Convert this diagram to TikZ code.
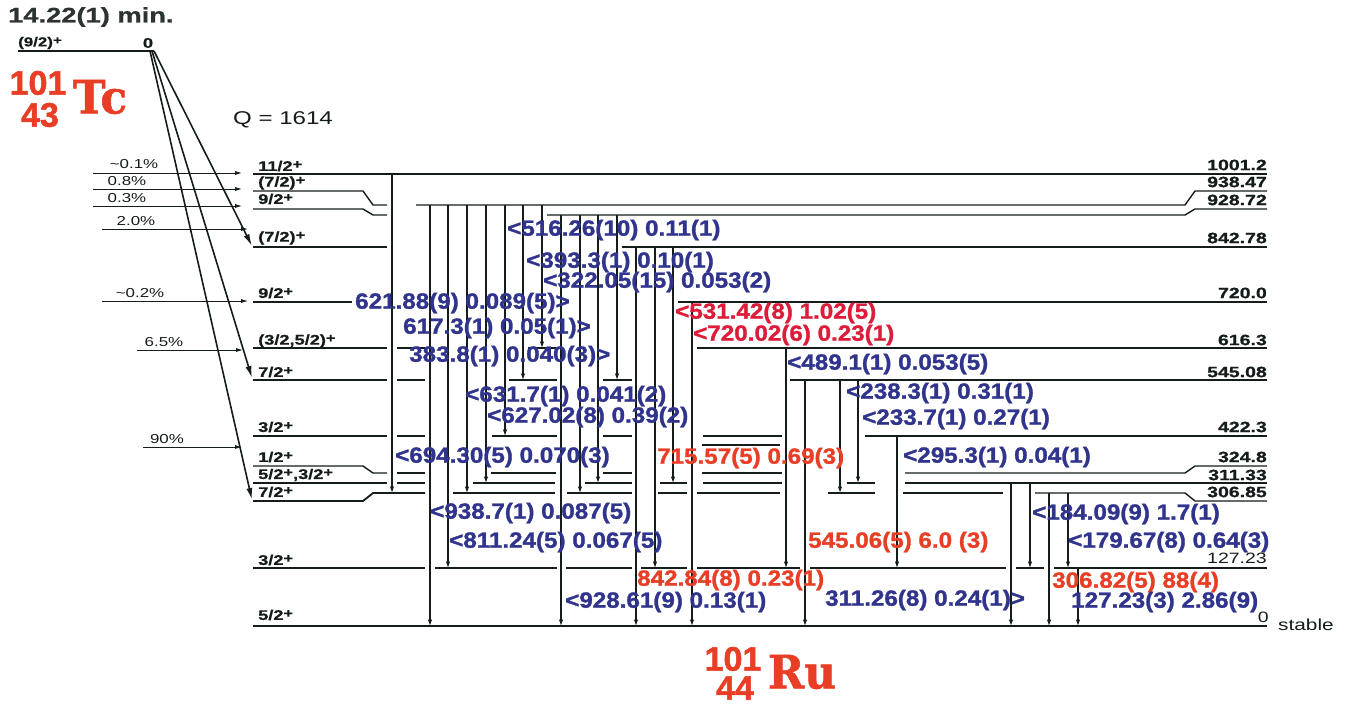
\documentclass[tikz,border=0pt]{standalone}
\usepackage{fontspec}
\usepackage{graphicx}
\usetikzlibrary{arrows.meta}
\setmainfont{Liberation Sans}
\newfontfamily\gfont{Liberation Sans}[FakeStretch=1.1, BoldFeatures={FakeBold=1.3}]
\newfontfamily\wfont{Liberation Sans}[FakeStretch=1.3, BoldFeatures={FakeBold=0.8}]
\newfontfamily\zfont{Liberation Sans}[BoldFeatures={FakeBold=1.5}]
\newfontfamily\efont{DejaVu Serif}[FakeStretch=0.95, BoldFeatures={FakeBold=1.2}]
\definecolor{gblue}{RGB}{48,52,140}
\definecolor{gred}{RGB}{232,62,38}
\definecolor{gcrim}{RGB}{222,28,58}
\definecolor{ink}{RGB}{20,28,28}
\newcommand\pl{\raisebox{0.32ex}{\scalebox{0.9}{+}}}
\tikzset{
 lvl/.style={line width=1.4pt, draw=ink},
 gam/.style={line width=1.1pt, draw=ink, -{Latex[length=6.5pt,width=4.5pt]}},
 feed/.style={line width=0.8pt, draw=ink, -{Latex[length=7pt,width=4pt]}},
 diag/.style={line width=1.6pt, draw=ink, -{Latex[length=12pt,width=6pt]}},
 glab/.style={inner sep=0pt, anchor=west, font=\gfont\bfseries\fontsize{22}{24}\selectfont},
 blab/.style={glab, text=gblue},
 rlab/.style={glab, text=gred},
 clab/.style={glab, text=gcrim},
 jp/.style={inner sep=0pt, anchor=west, font=\wfont\bfseries\fontsize{14}{16}\selectfont, text=ink},
 en/.style={inner sep=0pt, anchor=east, font=\wfont\bfseries\fontsize{15}{17}\selectfont, text=ink},
 enr/.style={inner sep=0pt, anchor=east, font=\wfont\fontsize{15}{17}\selectfont, text=ink},
 pct/.style={inner sep=0pt, font=\wfont\fontsize{13}{15}\selectfont, text=ink},
 znum/.style={inner sep=0pt, font=\zfont\bfseries\fontsize{34}{36}\selectfont, text=gred},
 elem/.style={inner sep=0pt, font=\efont\bfseries\fontsize{46}{48}\selectfont, text=gred},
}
\begin{document}
\begin{tikzpicture}[x=1pt,y=-1pt]
\useasboundingbox (0,0) rectangle (1348,706);
% ---------- parent
\draw[line width=2.5pt, draw=ink] (18,51) -- (154,51);
\node[inner sep=0pt, anchor=west, font=\wfont\bfseries\fontsize{21}{23}\selectfont, text=ink!90] (title) at (8,17) {14.22(1) min.};
\node[jp, font=\wfont\bfseries\fontsize{13}{15}\selectfont] (pjp) at (18,43) {(9/2)\pl};
\node[jp, anchor=center] (pen) at (148,43) {0};
\node[znum] (tcA) at (38,83) {101};
\node[znum] (tcZ) at (40,115) {43};
\node[elem] (tc) at (100,97) {Tc};
\node[inner sep=0pt, anchor=west, font=\wfont\fontsize{18.5}{20}\selectfont, text=ink] (q) at (233,120) {Q = 1614};
% ---------- beta feeding
\coordinate (p1) at (150,51);
\coordinate (p2) at (152,51);
\coordinate (p3) at (154,51);
\coordinate (b306) at (252,500);
\coordinate (b545) at (252,378);
\coordinate (b842) at (252,246);
\draw[diag] (p1) -- (b306);
\draw[diag] (p2) -- (b545);
\draw[diag] (p3) -- (b842);
\foreach \y/\a/\b in {173/93/242, 189/93/242, 206/93/242, 229/102/248, 301/102/248, 350/137/243, 447/143/242}
  \draw[feed] (\a,\y) -- (\b,\y);
\node[pct] (f1) at (134,164) {\textasciitilde0.1\%};
\node[pct] (f2) at (127,181) {0.8\%};
\node[pct] (f3) at (127,198) {0.3\%};
\node[pct] (f4) at (136,221) {2.0\%};
\node[pct] (f5) at (140,293) {\textasciitilde0.2\%};
\node[pct] (f6) at (164,342) {6.5\%};
\node[pct] (f7) at (167,439) {90\%};
% ---------- levels
\foreach \y/\a/\b in {174/253/1267,
  247/253/387, 247/622/1267,
  302/253/352, 302/678/1267,
  348/253/387, 348/397/425, 348/528/556, 348/697/1267,
  380/253/387, 380/397/425, 380/509/557, 380/603/632, 380/790/1267,
  436/253/387, 436/397/425, 436/492/557, 436/603/632, 436/703/782, 436/865/1267,
  445/702/780,
  473/397/425, 473/491/556, 473/603/632, 473/702/782,
  483/253/387, 483/397/425, 483/473/555, 483/585/632, 483/660/687, 483/703/782, 483/847/875, 483/905/1267,
  493/453/555, 493/567/632, 493/658/687, 493/697/780, 493/828/875, 493/903/1003,
  568/253/425, 568/435/557, 568/566/632, 568/641/687, 568/697/800, 568/810/1006, 568/1016/1044, 568/1054/1267}
  \draw[lvl] (\a,\y) -- (\b,\y);
\draw[lvl] (253,191) -- (363,191) -- (373,205) -- (387,205);
\draw[lvl] (416,205) -- (1185,205) -- (1195,191) -- (1267,191);
\draw[lvl] (253,209) -- (363,209) -- (373,215) -- (387,215);
\draw[lvl] (547,215) -- (1185,215) -- (1195,209) -- (1267,209);
\draw[lvl] (253,466) -- (363,466) -- (373,473) -- (387,473);
\draw[lvl] (905,473) -- (1185,473) -- (1195,466) -- (1267,466);
\draw[lvl, line width=1.8pt] (253,501) -- (363,501) -- (373,493) -- (425,493);
\draw[lvl] (1035,493) -- (1185,493) -- (1195,501) -- (1267,501);
\draw[lvl, line width=2.2pt] (253,626) -- (1267,626);
% ---------- gamma transitions
\foreach \x/\a/\b in {392/174/493, 430/205/626, 448/205/568, 467/205/493, 486/205/483,
  505/205/436, 523/205/380, 542/205/348, 561/215/626, 580/215/493, 598/215/483, 617/215/380,
  636/247/626, 655/247/568, 673/247/483, 692/302/626, 786/348/568, 805/380/626, 840/380/493,
  858/380/483, 897/436/568, 1011/483/626, 1030/483/568, 1049/493/626, 1068/493/568, 1078/568/626}
  \draw[gam] (\x,\a) -- (\x,\b);
% ---------- spin/parity labels
\node[jp] (j1) at (258,166) {11/2\pl};
\node[jp] (j2) at (258,183) {(7/2)\pl};
\node[jp] (j3) at (258,199) {9/2\pl};
\node[jp] (j4) at (258,238) {(7/2)\pl};
\node[jp] (j5) at (258,293) {9/2\pl};
\node[jp] (j6) at (258,341) {(3/2,5/2)\pl};
\node[jp] (j7) at (258,372) {7/2\pl};
\node[jp] (j8) at (258,427) {3/2\pl};
\node[jp] (j9) at (258,457) {1/2\pl};
\node[jp] (j10) at (258,475) {5/2\pl,3/2\pl};
\node[jp] (j11) at (258,492) {7/2\pl};
\node[jp] (j12) at (258,560) {3/2\pl};
\node[jp] (j13) at (258,615) {5/2\pl};
% ---------- energy labels
\node[en] (e1) at (1267,165) {1001.2};
\node[en] (e2) at (1267,182) {938.47};
\node[en] (e3) at (1267,200) {928.72};
\node[en] (e4) at (1267,238) {842.78};
\node[en] (e5) at (1267,293) {720.0};
\node[en] (e6) at (1267,340) {616.3};
\node[en] (e7) at (1267,372) {545.08};
\node[en] (e8) at (1267,427) {422.3};
\node[en] (e9) at (1267,457) {324.8};
\node[en] (e10) at (1267,475) {311.33};
\node[en] (e11) at (1267,492) {306.85};
\node[enr] (e12) at (1267,558) {127.23};
\node[enr] (e13) at (1269,617) {0};
\node[inner sep=0pt, anchor=west, font=\wfont\fontsize{16}{18}\selectfont, text=ink] (st) at (1278,625) {stable};
% ---------- gamma labels
\node[blab] (g1) at (507,230) {<516.26(10) 0.11(1)};
\node[blab] (g2) at (526,262) {<393.3(1) 0.10(1)};
\node[blab] (g3) at (543,282) {<322.05(15) 0.053(2)};
\node[blab] (g4) at (355,303) {621.88(9) 0.089(5)>};
\node[clab] (g5) at (675,313) {<531.42(8) 1.02(5)};
\node[blab] (g6) at (403,328) {617.3(1) 0.05(1)>};
\node[clab] (g7) at (693,335) {<720.02(6) 0.23(1)};
\node[blab] (g8) at (409,356) {383.8(1) 0.040(3)>};
\node[blab] (g9) at (787,364) {<489.1(1) 0.053(5)};
\node[blab] (g10) at (465,396) {<631.7(1) 0.041(2)};
\node[blab] (g11) at (846,393) {<238.3(1) 0.31(1)};
\node[blab] (g12) at (487,417) {<627.02(8) 0.39(2)};
\node[blab] (g13) at (862,419) {<233.7(1) 0.27(1)};
\node[blab] (g14) at (395,457) {<694.30(5) 0.070(3)};
\node[rlab] (g15) at (657,458) {715.57(5) 0.69(3)};
\node[blab] (g16) at (903,457) {<295.3(1) 0.04(1)};
\node[blab] (g17) at (430,513) {<938.7(1) 0.087(5)};
\node[blab] (g18) at (1032,514) {<184.09(9) 1.7(1)};
\node[blab] (g19) at (449,542) {<811.24(5) 0.067(5)};
\node[rlab] (g20) at (808,542) {545.06(5) 6.0 (3)};
\node[blab] (g21) at (1068,542) {<179.67(8) 0.64(3)};
\node[rlab] (g22) at (637,580) {842.84(8) 0.23(1)};
\node[rlab] (g23) at (1052,582) {306.82(5) 88(4)};
\node[blab] (g24) at (565,602) {<928.61(9) 0.13(1)};
\node[blab] (g25) at (825,600) {311.26(8) 0.24(1)>};
\node[blab] (g26) at (1071,602) {127.23(3) 2.86(9)};
% ---------- daughter
\node[znum] (ruA) at (733,659) {101};
\node[znum] (ruZ) at (735,688) {44};
\node[elem] (ru) at (802,672) {Ru};
\end{tikzpicture}
\end{document}
